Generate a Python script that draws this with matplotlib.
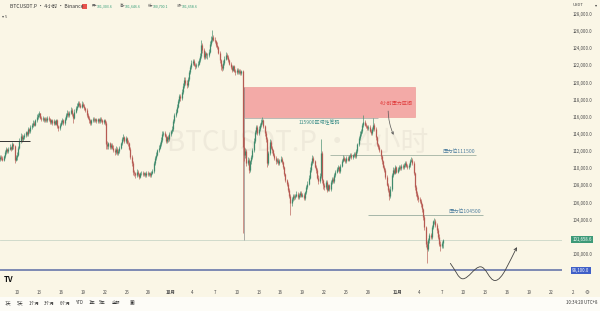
import matplotlib
matplotlib.use("Agg")
import numpy as np
import pandas as pd
import matplotlib.pyplot as plt
import matplotlib.dates as mdates
from matplotlib.patches import Rectangle, FancyArrowPatch
from matplotlib.path import Path

plt.rcParams['font.family'] = ['Noto Sans CJK SC', 'DejaVu Sans']

W, H = 600, 311
BG = '#faf6e6'

# BTCUSDT.P 4h candles, thousand USDT, one row per day (Sep 7 12:00 .. Nov 7 04:00)
first_open = 111.0
closes = [
    111.1, 111.3, 111.2,
    111.0, 111.4, 111.9, 112.2, 112.0, 112.3,
    112.5, 112.3, 112.8, 112.6, 111.0, 111.3,
    111.6, 112.4, 113.2, 113.8, 113.4, 113.6,
    113.9, 114.2, 114.0, 114.6, 114.3, 114.8,
    115.0, 115.3, 115.1, 115.6, 116.0, 116.2,
    116.4, 115.9, 115.7, 115.9, 115.6, 115.8,
    115.6, 115.9, 115.7, 115.4, 115.6, 115.3,
    115.5, 115.2, 115.6, 114.9, 114.7, 115.1,
    115.4, 115.6, 115.3, 115.8, 116.2, 116.5,
    116.2, 116.5, 116.8, 116.3, 115.9, 116.6,
    117.0, 117.3, 117.6, 117.4, 117.2, 117.5,
    117.3, 117.0, 116.8, 116.2, 115.9, 115.6,
    115.3, 115.6, 115.8, 115.6, 115.7, 115.5,
    115.7, 115.5, 115.8, 115.6, 115.4, 115.6,
    115.3, 112.8, 112.6, 112.9, 112.5, 112.7,
    112.4, 112.1, 111.9, 112.3, 111.8, 112.0,
    112.4, 112.9, 113.4, 113.6, 113.2, 113.5,
    113.0, 112.9, 112.3, 111.3, 110.6, 109.6,
    109.4, 109.2, 109.6, 109.3, 109.0, 109.4,
    109.5, 109.3, 109.4, 109.2, 109.5, 109.3,
    109.4, 109.2, 109.5, 109.7, 110.6, 111.2,
    111.6, 112.1, 112.4, 112.8, 113.3, 114.0,
    114.1, 113.8, 113.2, 113.6, 113.4, 114.0,
    114.3, 114.6, 115.5, 116.2, 116.6, 117.2,
    117.8, 118.4, 118.2, 118.9, 119.6, 120.3,
    120.0, 119.7, 120.4, 121.2, 121.8, 122.3,
    122.5, 122.1, 121.9, 122.0, 122.2, 122.6,
    123.1, 124.4, 123.8, 123.0, 123.4, 123.2,
    123.2, 123.6, 124.5, 125.0, 125.3, 125.0,
    124.8, 124.4, 124.1, 123.5, 122.6, 121.9,
    121.7, 122.3, 122.8, 123.2, 123.0, 122.6,
    122.2, 121.8, 121.5, 121.9, 121.4, 121.2,
    121.5, 121.2, 121.4, 121.1, 121.3, 112.5,
    111.5, 112.0, 110.6, 111.0, 109.8, 110.8,
    111.3, 112.1, 113.2, 114.2, 114.8, 114.1,
    114.6, 115.0, 115.4, 115.6, 114.9, 114.1,
    113.4, 110.6, 111.8, 113.1, 112.4, 112.1,
    111.6, 111.2, 110.8, 111.0, 110.6, 110.9,
    111.1, 110.7, 110.1, 109.3, 108.6, 108.2,
    107.5, 106.8, 105.9, 106.4, 106.8, 106.6,
    106.8, 107.0, 106.6, 106.9, 107.1, 106.8,
    106.9, 106.5, 107.2, 107.8, 108.2, 108.9,
    109.8, 110.6, 111.2, 110.8, 110.2, 109.8,
    108.9, 108.5, 109.1, 111.8, 108.6, 108.0,
    107.8, 108.4, 107.5, 108.0, 107.6, 108.4,
    108.8, 108.5, 109.2, 109.6, 109.9, 110.1,
    109.7, 110.3, 110.9, 111.2, 111.0, 110.8,
    111.2, 111.0, 111.4, 111.6, 111.3, 111.5,
    111.7, 111.4, 112.0, 112.8, 113.5, 114.0,
    114.3, 115.0, 115.4, 115.1, 114.9, 114.7,
    114.8, 114.4, 114.1, 114.6, 115.1, 114.6,
    113.6, 112.8, 112.5, 112.1, 111.4, 110.8,
    110.2, 109.8, 109.0, 108.1, 107.5, 106.8,
    107.6, 109.2, 109.8, 109.5, 110.1, 109.6,
    109.9, 110.2, 110.0, 110.3, 110.1, 110.4,
    110.6, 110.3, 110.1, 110.4, 110.9, 111.0,
    110.6, 109.4, 107.8, 107.1, 106.6, 106.4,
    106.2, 105.8, 105.2, 104.3, 103.1, 101.2,
    100.6, 101.6, 102.2, 102.0, 103.1, 103.8,
    103.9, 103.4, 102.8, 102.0, 101.2, 100.9,
    101.3, 101.66,
]
highs = [
    111.4, 111.5, 111.5,
    111.4, 111.6, 112.1, 112.5, 112.4, 112.5,
    112.8, 112.6, 113.1, 113.0, 112.7, 111.6,
    111.9, 112.6, 113.5, 114.1, 114.0, 113.9,
    114.1, 114.4, 114.4, 114.8, 114.7, 115.0,
    115.3, 115.6, 115.5, 115.8, 116.3, 116.5,
    116.7, 116.5, 116.1, 116.1, 116.0, 116.0,
    116.0, 116.1, 116.1, 115.9, 115.8, 115.8,
    115.7, 115.6, 115.8, 115.8, 115.1, 115.3,
    115.6, 115.9, 115.8, 116.0, 116.4, 116.8,
    116.7, 116.7, 117.1, 117.0, 116.5, 116.9,
    117.3, 117.6, 117.9, 117.9, 117.6, 117.8,
    117.7, 117.5, 117.2, 117.0, 116.4, 116.1,
    115.8, 115.8, 116.0, 116.0, 115.9, 115.9,
    115.9, 115.9, 116.0, 116.0, 115.8, 115.8,
    115.8, 115.5, 113.2, 113.1, 113.1, 112.9,
    112.9, 112.7, 112.4, 112.6, 112.5, 112.2,
    112.6, 113.1, 113.7, 114.0, 113.8, 113.8,
    113.7, 113.3, 113.1, 112.5, 111.5, 110.8,
    109.8, 109.6, 109.9, 109.8, 109.5, 109.6,
    109.7, 109.7, 109.6, 109.6, 109.7, 109.7,
    109.6, 109.6, 109.7, 109.9, 110.8, 111.4,
    111.9, 112.3, 112.7, 113.1, 113.6, 114.3,
    114.4, 114.3, 114.0, 113.8, 113.9, 114.2,
    114.5, 114.9, 115.8, 116.5, 116.9, 117.5,
    118.1, 118.7, 118.7, 119.2, 119.9, 120.6,
    120.6, 120.3, 120.7, 121.5, 122.1, 122.6,
    122.8, 122.7, 122.3, 122.3, 122.5, 122.9,
    123.4, 125.0, 124.6, 124.0, 123.7, 123.6,
    123.5, 123.9, 124.8, 125.4, 126.1, 125.6,
    125.3, 125.0, 124.7, 124.3, 123.7, 122.8,
    122.2, 122.6, 123.1, 123.6, 123.4, 123.2,
    122.8, 122.4, 122.0, 122.1, 122.1, 121.6,
    121.7, 121.7, 121.6, 121.6, 121.5, 121.5,
    113.6, 112.4, 112.2, 111.3, 111.2, 111.0,
    111.6, 112.4, 113.5, 114.5, 115.1, 115.0,
    114.9, 115.3, 115.7, 116.0, 115.8, 115.1,
    114.3, 113.6, 112.0, 113.4, 113.3, 112.6,
    112.3, 111.8, 111.4, 111.2, 111.2, 111.1,
    111.4, 111.3, 110.9, 110.3, 109.5, 108.8,
    108.4, 107.7, 107.0, 106.6, 107.0, 107.0,
    107.0, 107.3, 107.2, 107.1, 107.3, 107.3,
    107.1, 107.1, 107.4, 108.0, 108.5, 109.2,
    110.1, 110.9, 111.5, 111.4, 111.0, 110.4,
    110.0, 109.2, 109.4, 113.4, 112.0, 108.8,
    108.3, 108.6, 108.6, 108.2, 108.2, 108.6,
    109.0, 109.0, 109.4, 109.8, 110.2, 110.4,
    110.3, 110.5, 111.1, 111.5, 111.4, 111.2,
    111.4, 111.4, 111.6, 111.8, 111.8, 111.7,
    111.9, 111.9, 112.2, 113.0, 113.8, 114.3,
    114.6, 115.3, 116.2, 115.6, 115.3, 115.1,
    115.0, 115.0, 114.6, 114.8, 115.9, 115.3,
    114.8, 113.8, 113.0, 112.7, 112.3, 111.6,
    111.0, 110.4, 110.0, 109.2, 108.3, 107.7,
    107.9, 109.5, 110.1, 110.0, 110.4, 110.3,
    110.1, 110.4, 110.4, 110.5, 110.5, 110.6,
    110.8, 110.8, 110.5, 110.6, 111.1, 111.3,
    111.2, 110.8, 109.6, 108.0, 107.3, 106.9,
    106.6, 106.4, 106.0, 105.4, 104.5, 103.3,
    101.5, 101.9, 102.5, 102.5, 103.4, 104.0,
    104.2, 104.1, 103.6, 103.0, 102.3, 101.5,
    101.5, 101.7,
]
lows = [
    110.8, 110.9, 111.0,
    110.8, 110.9, 111.2, 111.7, 111.8, 111.8,
    112.1, 112.0, 112.1, 112.3, 110.6, 110.8,
    111.0, 111.4, 112.2, 113.0, 113.1, 113.2,
    113.4, 113.7, 113.8, 113.8, 114.1, 114.1,
    114.6, 114.8, 114.9, 114.9, 115.4, 115.8,
    116.0, 115.7, 115.5, 115.5, 115.4, 115.4,
    115.4, 115.4, 115.5, 115.2, 115.2, 115.1,
    115.1, 115.0, 115.0, 114.7, 114.4, 114.5,
    114.9, 115.2, 115.1, 115.1, 115.6, 116.0,
    116.0, 116.0, 116.3, 116.1, 115.3, 115.7,
    116.4, 116.8, 117.1, 117.2, 117.0, 117.0,
    117.1, 116.8, 116.6, 116.0, 115.7, 115.3,
    115.1, 115.1, 115.4, 115.4, 115.4, 115.3,
    115.3, 115.3, 115.3, 115.4, 115.2, 115.2,
    115.0, 112.3, 112.2, 112.3, 112.2, 112.3,
    112.2, 111.9, 111.6, 111.7, 111.5, 111.6,
    111.8, 112.2, 112.7, 113.2, 113.0, 113.0,
    112.8, 112.6, 112.1, 111.1, 110.3, 109.2,
    109.1, 108.9, 109.0, 109.1, 108.7, 108.9,
    109.2, 109.1, 109.1, 109.0, 109.0, 109.1,
    109.1, 109.0, 109.0, 109.3, 109.5, 110.4,
    111.0, 111.4, 111.9, 112.2, 112.6, 113.1,
    113.8, 113.6, 112.9, 113.0, 113.1, 113.2,
    113.8, 114.1, 114.4, 115.3, 116.0, 116.4,
    117.0, 117.6, 117.9, 118.0, 118.7, 119.4,
    119.7, 119.4, 119.5, 120.2, 121.0, 121.6,
    122.0, 121.9, 121.6, 121.7, 121.8, 122.0,
    122.4, 122.9, 123.5, 122.7, 122.8, 122.9,
    122.8, 123.0, 123.4, 124.3, 124.7, 124.8,
    124.6, 124.2, 123.9, 123.3, 122.3, 121.5,
    121.3, 121.5, 122.1, 122.6, 122.8, 122.4,
    122.0, 121.6, 121.2, 121.3, 121.2, 120.9,
    121.0, 121.0, 121.0, 120.9, 120.9, 102.5,
    110.8, 111.2, 110.3, 110.4, 109.5, 109.6,
    110.5, 111.1, 111.9, 113.0, 114.0, 113.9,
    113.9, 114.4, 114.8, 115.2, 114.7, 113.8,
    113.1, 110.1, 110.4, 111.6, 112.2, 111.8,
    111.4, 111.0, 110.5, 110.6, 110.4, 110.4,
    110.7, 110.5, 109.9, 109.1, 108.4, 107.9,
    107.2, 106.5, 104.5, 105.6, 106.2, 106.3,
    106.4, 106.6, 106.4, 106.4, 106.7, 106.6,
    106.6, 106.3, 106.3, 107.0, 107.6, 108.0,
    108.7, 109.6, 110.4, 110.6, 110.0, 109.5,
    108.7, 108.2, 108.3, 108.9, 108.3, 107.6,
    107.5, 107.6, 107.2, 107.3, 107.4, 107.4,
    108.2, 108.3, 108.3, 109.0, 109.4, 109.7,
    109.4, 109.5, 110.1, 110.7, 110.8, 110.6,
    110.6, 110.8, 110.8, 111.2, 111.1, 111.1,
    111.3, 111.2, 111.2, 111.8, 112.6, 113.3,
    113.8, 114.1, 114.8, 114.9, 114.7, 114.5,
    114.5, 114.2, 113.9, 113.9, 114.4, 114.4,
    113.3, 112.6, 112.2, 111.9, 111.1, 110.5,
    110.0, 109.6, 108.8, 107.9, 107.2, 106.3,
    106.5, 107.4, 109.0, 109.3, 109.3, 109.4,
    109.4, 109.7, 109.8, 109.8, 109.9, 109.9,
    110.2, 110.1, 109.9, 109.9, 110.2, 110.7,
    110.4, 109.2, 107.5, 106.8, 106.3, 106.1,
    105.9, 105.5, 104.9, 104.0, 102.8, 100.8,
    99.0, 100.3, 101.3, 101.7, 101.8, 102.9,
    103.5, 103.2, 102.5, 101.7, 100.9, 100.4,
    100.7, 100.7,
]
start_time = '2025-09-07 12:00'

# drawn levels (thousand USDT)
zone_low, zone_high = 116.0, 119.5
chip_level = 115.9
resist_1 = 111.5
resist_2 = 104.5
last_price = 101.6586
support = 98.1
left_level = 113.2

# hand drawn projection, (day offset from Sep 1, price)
proj_days = [68.2, 68.9, 69.3, 69.9, 70.7, 71.5, 72.3, 73.1, 73.5, 74.3, 75.3, 76.3, 77.3]
proj_prices = [98.9, 98.1, 97.1, 97.1, 97.1, 98.5, 98.5, 98.5, 96.9, 96.9, 96.9, 99.2, 100.8]

price_ticks = [100, 104, 106, 108, 110, 112, 114, 116, 118, 120, 122, 124, 126, 128]
date_ticks = ['2025-09-10', '2025-09-13', '2025-09-16', '2025-09-19', '2025-09-22',
              '2025-09-25', '2025-09-28', '2025-10-01', '2025-10-04', '2025-10-07',
              '2025-10-10', '2025-10-13', '2025-10-16', '2025-10-19', '2025-10-22',
              '2025-10-25', '2025-10-28', '2025-11-01', '2025-11-04', '2025-11-07',
              '2025-11-10', '2025-11-13', '2025-11-16', '2025-11-19', '2025-11-22']
date_labels = ['10', '13', '16', '19', '22', '25', '28', '10月', '4', '7', '10', '13',
               '16', '19', '22', '25', '28', '11月', '4', '7', '10', '13', '16', '19', '22']
ranges = ['1天', '5天', '1个月', '3个月', '6个月', 'YTD', '1年', '5年', '全部']
range_x = [5, 17, 29, 44, 60, 76, 89, 99, 112]


def fx(x):
    return x / W


def fy(y):
    return 1 - y / H


base = mdates.date2num(pd.Timestamp('2025-09-01'))


def day(d):
    return base + d


fig = plt.figure(figsize=(W / 100, H / 100), dpi=100, facecolor=BG)
ax = fig.add_axes([0, fy(283), fx(562), 283 / H])
ax.set_facecolor(BG)
for s in ax.spines.values():
    s.set_visible(False)

c = np.array(closes)
o = np.concatenate([[first_open], c[:-1]])
hi = np.array(highs)
lo = np.array(lows)
t = mdates.date2num(pd.date_range(start_time, periods=len(c), freq='4h'))
col = np.where(c >= o, '#3f8a6c', '#b65a52')

ax.text(day(47.3), 112.9, 'BTCUSDT.P · 4小时', fontsize=20, color='#efeadb',
        ha='center', va='center', zorder=0)

ax.vlines(t, lo, hi, colors=col, lw=0.45, zorder=3)
ax.vlines(t, np.minimum(o, c), np.maximum(o, c), colors=col, lw=0.9, zorder=3)

# resistance zone
ax.add_patch(Rectangle((day(39.95), zone_low), day(63.37) - day(39.95), zone_high - zone_low,
                       facecolor='#f3a2a0', edgecolor='#ec8c8a', lw=0.4, alpha=0.9, zorder=2))
ax.text(day(63.1), 117.6, '4小时压力区间', fontsize=3.6, color='#e03a3a', ha='right', va='center', zorder=5)
ax.annotate('', xy=(day(60.6), 113.6), xytext=(day(59.7), 117.0),
            arrowprops=dict(arrowstyle='->', color='#555555', lw=0.5, mutation_scale=4,
                            connectionstyle='arc3,rad=0.12'), zorder=5)
ax.vlines(day(40.0), last_price, zone_high, color='#8c8c8c', lw=0.5, zorder=2)

ax.hlines(chip_level, day(39.95), day(58.3), color='#a0a0a0', lw=0.5, zorder=2)
ax.text(day(50.3), chip_level - 0.2, '115900区域性筹码', fontsize=3.6, color='#3c8e88',
        ha='center', va='top', zorder=5)

ax.hlines(resist_1, day(51.8), day(71.7), color='#a2b2a2', lw=0.6, zorder=2)
ax.text(day(71.6), resist_1 + 0.15, '压力位111500', fontsize=3.7, color='#4f7f9f',
        ha='right', va='bottom', zorder=5)
ax.hlines(resist_2, day(56.95), day(72.66), color='#98ad9f', lw=0.6, zorder=2)
ax.text(day(72.5), resist_2 + 0.15, '压力位104500', fontsize=3.7, color='#4f7f9f',
        ha='right', va='bottom', zorder=5)

ax.hlines(left_level, day(6.0), day(10.8), color='#333333', lw=0.7, zorder=4)
ax.axhline(last_price, color='#cad6c8', lw=0.6, zorder=1)
ax.axhline(support, color='#5b6ca6', lw=1.1, zorder=2)

# projection path
pts = [(day(d), p) for d, p in zip(proj_days, proj_prices)]
codes = [Path.MOVETO] + [Path.CURVE4] * (len(pts) - 1)
ax.add_patch(FancyArrowPatch(path=Path(pts, codes), arrowstyle='->', mutation_scale=5,
                             color='#444444', lw=0.6, zorder=5))

ax.set_xlim(day(6.68), day(83.45))
ax.set_ylim(96.61, 129.63)

ax.yaxis.tick_right()
ax.set_yticks(price_ticks, [f'{v * 1000:,.1f}' for v in price_ticks])
ax.tick_params(axis='y', length=0, pad=7.5, labelsize=3.1, labelcolor='#4a4a4a')
ax.set_xticks(mdates.date2num(pd.to_datetime(date_ticks)), date_labels)
ax.tick_params(axis='x', length=0, pad=5, labelsize=3.2, labelcolor='#4a4a4a')
for lab in ax.get_xticklabels():
    if '月' in lab.get_text():
        lab.set_fontweight('bold')

# price tags
tr = ax.get_yaxis_transform()
ax.text(1.018, last_price, f'{last_price * 1000:,.1f}', transform=tr, fontsize=3.1, color='white',
        ha='left', va='center', clip_on=False, zorder=6,
        bbox=dict(boxstyle='square,pad=0.25', facecolor='#3d9a78', edgecolor='none'))
ax.text(1.018, support, f'{support * 1000:,.1f}', transform=tr, fontsize=3.1, color='white',
        ha='left', va='center', clip_on=False, zorder=6,
        bbox=dict(boxstyle='square,pad=0.25', facecolor='#3f5fc8', edgecolor='none'))

# header
fig.text(fx(10), fy(6), 'BTCUSDT.P · 4小时 · Binance', fontsize=3.6, color='#333333', va='center')
fig.patches.append(Rectangle((fx(82), fy(8.5)), 5 / W, 5 / H, transform=fig.transFigure,
                             facecolor='#e8524b', edgecolor='none'))
ohlc = [('开', '101,303.6', 92), ('高', '101,646.6', 120), ('低', '100,700.1', 148), ('收', '101,658.6', 177)]
for k, v, x in ohlc:
    fig.text(fx(x), fy(6), k + '=', fontsize=2.6, color='#555555', va='center')
    fig.text(fx(x + 5), fy(6), v, fontsize=2.6, color='#2e9a74', va='center')
fig.text(fx(2), fy(17), '▾ 5', fontsize=3, color='#555555', va='center')
fig.text(fx(573), fy(5), 'USDT', fontsize=3, color='#444444', va='center')
fig.text(fx(595), fy(5), '▾', fontsize=3, color='#444444', va='center')

# bottom bar
fig.patches.append(Rectangle((0, 0), 1, 14 / H, transform=fig.transFigure,
                             facecolor='#fdfcf7', edgecolor='none'))
fig.text(fx(4), fy(280), 'TV', fontsize=5.5, fontweight='bold', color='#111111', va='center')
fig.text(fx(572), fy(292), '2', fontsize=3.2, color='#4a4a4a', va='center')
fig.text(fx(585), fy(292), '⚙', fontsize=4, color='#555555', va='center', family='DejaVu Sans')
for lab, x in zip(ranges, range_x):
    fig.text(fx(x), fy(303), lab, fontsize=3.1, color='#333333', va='center')
fig.text(fx(130), fy(303), '▣', fontsize=3.5, color='#333333', va='center', family='DejaVu Sans')
fig.text(fx(597), fy(303), '10:34:20 UTC+8', fontsize=3.1, color='#333333', va='center', ha='right')

fig.savefig('out.png', dpi=100, facecolor=BG)
